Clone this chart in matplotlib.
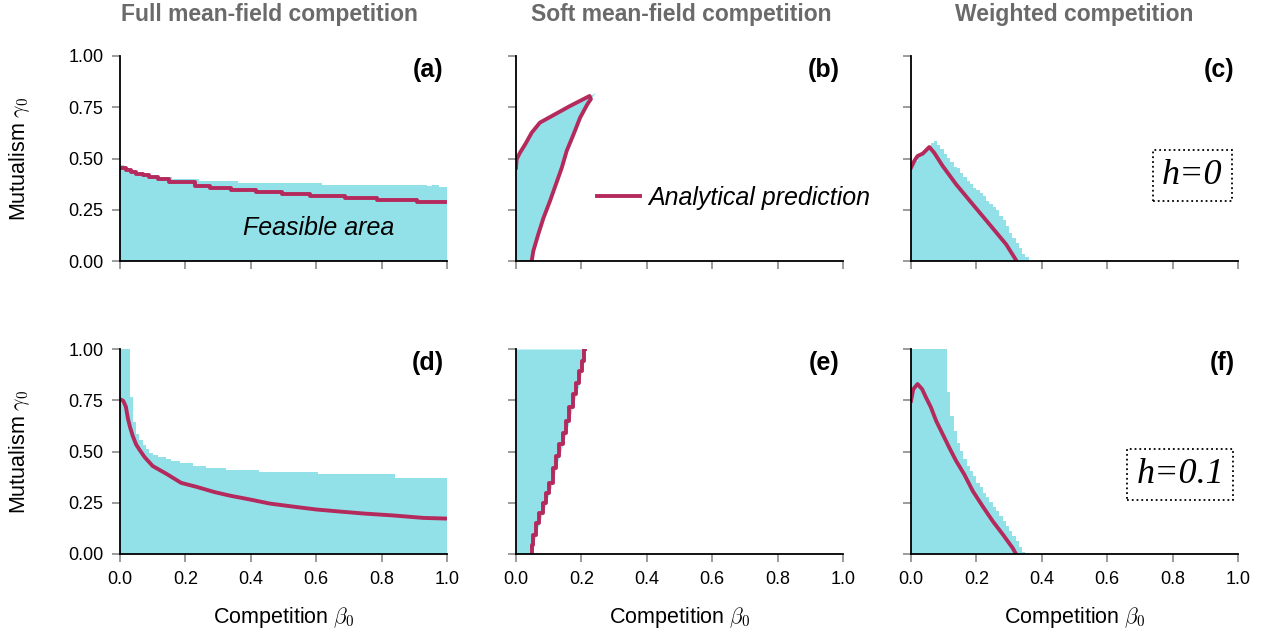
import numpy as np
import matplotlib
matplotlib.use('Agg')
import matplotlib.pyplot as plt

plt.rcParams['font.family'] = ['Liberation Sans', 'DejaVu Sans']
plt.rcParams['mathtext.fontset'] = 'cm'

CYAN = '#93e1e8'
RED = '#b42a5d'
GREY = '#6a6a6a'

# ---- panel (a): full mean-field, h=0 ----
a_edges = [0, 0.013, 0.029, 0.049, 0.08, 0.11, 0.16, 0.243, 0.36, 0.617, 0.94, 0.955, 0.975, 1.0]
a_tops = [0.47, 0.455, 0.44, 0.43, 0.415, 0.41, 0.40, 0.39, 0.379, 0.371, 0.364, 0.371, 0.362]
a_line_beta = [0, 0.018, 0.034, 0.049, 0.07, 0.09, 0.116, 0.151, 0.228, 0.274, 0.34, 0.417, 0.494,
               0.581, 0.688, 0.785, 0.908, 0.995]
a_line_gamma = [0.455, 0.444, 0.434, 0.426, 0.418, 0.41, 0.398, 0.387, 0.366, 0.358, 0.346, 0.337,
                0.325, 0.317, 0.307, 0.296, 0.286, 0.286]

# ---- panel (b): soft mean-field, h=0 ----
b_fill_beta = [0, 0.048, 0.053, 0.068, 0.084, 0.104, 0.122, 0.14, 0.155, 0.176, 0.196, 0.218, 0.245,
               0.229, 0.165, 0.073, 0.048, 0.028, 0.012, 0.002, 0]
b_fill_gamma = [0, 0, 0.049, 0.13, 0.21, 0.293, 0.374, 0.455, 0.537, 0.618, 0.699, 0.764, 0.821,
                0.805, 0.756, 0.675, 0.626, 0.569, 0.528, 0.496, 0.455]
b_line_beta = [0, 0.002, 0.012, 0.028, 0.048, 0.073, 0.165, 0.225, 0.229, 0.218, 0.196, 0.176, 0.155,
               0.14, 0.122, 0.104, 0.084, 0.068, 0.053, 0.048]
b_line_gamma = [0.455, 0.496, 0.528, 0.569, 0.626, 0.675, 0.756, 0.805, 0.79, 0.764, 0.699, 0.618,
                0.537, 0.455, 0.374, 0.293, 0.21, 0.13, 0.049, 0]

# ---- panel (c): weighted, h=0 (bins of 0.01) ----
c_tops = [0.47, 0.49, 0.51, 0.52, 0.53, 0.55, 0.574, 0.585, 0.566, 0.545, 0.524, 0.504, 0.485, 0.46,
          0.452, 0.431, 0.41, 0.39, 0.377, 0.358, 0.345, 0.333, 0.317, 0.293, 0.28, 0.263, 0.247,
          0.22, 0.2, 0.171, 0.138, 0.114, 0.089, 0.065, 0.033, 0.02]
c_line_beta = [0, 0.01, 0.02, 0.036, 0.046, 0.056, 0.071, 0.097, 0.138, 0.189, 0.24, 0.291, 0.323]
c_line_gamma = [0.455, 0.488, 0.512, 0.524, 0.54, 0.556, 0.528, 0.463, 0.374, 0.276, 0.179, 0.081, 0]

# ---- panel (d): full mean-field, h=0.1 ----
d_edges = [0, 0.032, 0.039, 0.049, 0.059, 0.07, 0.08, 0.09, 0.1, 0.116, 0.141, 0.156, 0.182, 0.223,
           0.262, 0.323, 0.425, 0.606, 0.842, 1.0]
d_tops = [1.0, 0.768, 0.646, 0.584, 0.555, 0.532, 0.514, 0.493, 0.483, 0.473, 0.462, 0.453, 0.442,
          0.429, 0.421, 0.408, 0.40, 0.388, 0.372]
d_line_beta = [0, 0.01, 0.018, 0.024, 0.031, 0.039, 0.049, 0.059, 0.075, 0.1, 0.141, 0.187, 0.233,
               0.289, 0.335, 0.397, 0.458, 0.545, 0.601, 0.673, 0.749, 0.836, 0.928, 0.995]
d_line_gamma = [0.755, 0.747, 0.718, 0.662, 0.617, 0.576, 0.535, 0.51, 0.473, 0.429, 0.392, 0.347,
                0.328, 0.302, 0.285, 0.266, 0.246, 0.228, 0.217, 0.207, 0.197, 0.188, 0.176, 0.173]

# ---- panel (e): soft mean-field, h=0.1 ----
e_gamma = [0, 0.046, 0.095, 0.152, 0.2, 0.25, 0.299, 0.347, 0.421, 0.478, 0.535, 0.592, 0.649, 0.715,
           0.78, 0.832, 0.894, 0.943, 1.0]
e_beta = [0.048, 0.053, 0.061, 0.071, 0.082, 0.092, 0.102, 0.112, 0.122, 0.133, 0.143, 0.153, 0.163,
          0.173, 0.184, 0.194, 0.201, 0.208, 0.211]

# ---- panel (f): weighted, h=0.1 (bins of 0.01) ----
f_tops = [1.0, 1.0, 1.0, 1.0, 1.0, 1.0, 1.0, 1.0, 1.0, 1.0, 1.0, 0.788, 0.674, 0.60, 0.543, 0.502,
          0.465, 0.429, 0.405, 0.38, 0.345, 0.325, 0.30, 0.277, 0.253, 0.228, 0.21, 0.186, 0.16,
          0.137, 0.113, 0.088, 0.062, 0.033, 0.01]
f_line_beta = [0, 0.007, 0.02, 0.034, 0.046, 0.061, 0.077, 0.097, 0.117, 0.138, 0.163, 0.189, 0.219,
               0.25, 0.281, 0.311, 0.321]
f_line_gamma = [0.747, 0.804, 0.829, 0.804, 0.763, 0.715, 0.649, 0.584, 0.519, 0.454, 0.388, 0.307,
                0.233, 0.16, 0.095, 0.029, 0]

col_titles = ['Full mean-field competition', 'Soft mean-field competition', 'Weighted competition']
panel_tags = ['a', 'b', 'c', 'd', 'e', 'f']

fig = plt.figure(figsize=(12.7, 6.37), dpi=100)
W, H = 1270.0, 637.0
lefts = [120, 516, 911]
tops_px = [56, 349]
aw, ah = 327, 205

axes = []
for r in range(2):
    for c in range(3):
        ax = fig.add_axes([lefts[c] / W, 1 - (tops_px[r] + ah) / H, aw / W, ah / H])
        ax.set_xlim(0, 1)
        ax.set_ylim(0, 1)
        for s in ['top', 'right']:
            ax.spines[s].set_visible(False)
        for s in ['left', 'bottom']:
            ax.spines[s].set_linewidth(1.3)
        ax.set_xticks([0, 0.2, 0.4, 0.6, 0.8, 1.0])
        ax.set_yticks([0, 0.25, 0.5, 0.75, 1.0])
        ax.tick_params(direction='out', length=6, width=1.2, color='#8a8a8a', labelsize=13, pad=6)
        if c == 0:
            ax.set_yticklabels(['0.00', '0.25', '0.50', '0.75', '1.00'])
        else:
            ax.set_yticklabels([])
        if r == 1:
            ax.set_xticklabels(['0.0', '0.2', '0.4', '0.6', '0.8', '1.0'])
        else:
            ax.set_xticklabels([])
        ax.text(0.99, 0.99, '(' + panel_tags[r * 3 + c] + ')', transform=ax.transAxes,
                ha='right', va='top', fontsize=18, fontweight='bold')
        axes.append(ax)

ax_a, ax_b, ax_c, ax_d, ax_e, ax_f = axes

# (a)
ax_a.stairs(a_tops, a_edges, fill=True, color=CYAN, linewidth=0)
ax_a.plot(a_line_beta, a_line_gamma, color=RED, lw=2.8, drawstyle='steps-post')
ax_a.text(0.607, 0.16, 'Feasible area', fontsize=18, style='italic', ha='center', va='center')

# (b)
ax_b.fill(b_fill_beta, b_fill_gamma, color=CYAN, linewidth=0)
ax_b.plot(b_line_beta, b_line_gamma, color=RED, lw=2.8, label='Analytical prediction')
ax_b.legend(loc='center left', bbox_to_anchor=(0.248, 0.307), frameon=False, borderpad=0,
            borderaxespad=0, handlelength=1.7, handletextpad=0.35,
            prop={'size': 18, 'style': 'italic'})

# (c)
bins_c = np.arange(len(c_tops)) * 0.01
ax_c.bar(bins_c, c_tops, width=0.01, align='edge', color=CYAN, linewidth=0)
ax_c.plot(c_line_beta, c_line_gamma, color=RED, lw=2.8)

# (d)
ax_d.stairs(d_tops, d_edges, fill=True, color=CYAN, linewidth=0)
ax_d.plot(d_line_beta, d_line_gamma, color=RED, lw=2.8)

# (e)
ax_e.fill_betweenx(e_gamma, 0, e_beta, color=CYAN, linewidth=0)
ax_e.plot(e_beta, e_gamma, color=RED, lw=2.8, drawstyle='steps-pre')

# (f)
bins_f = np.arange(len(f_tops)) * 0.01
ax_f.bar(bins_f, f_tops, width=0.01, align='edge', color=CYAN, linewidth=0)
ax_f.plot(f_line_beta, f_line_gamma, color=RED, lw=2.8)

box = dict(boxstyle='square,pad=0.25', facecolor='white', edgecolor='black', linestyle=':', linewidth=1.3)
ax_c.text(0.86, 0.415, 'h=0', fontsize=26, family='Liberation Serif', style='italic',
          ha='center', va='center', transform=ax_c.transAxes, bbox=box)
ax_f.text(0.823, 0.39, 'h=0.1', fontsize=26, family='Liberation Serif', style='italic',
          ha='center', va='center', transform=ax_f.transAxes, bbox=box)

for cx, t in zip([269, 681, 1074], col_titles):
    fig.text(cx / W, 1 - 15 / H, t, ha='center', va='center', fontsize=16.5,
             fontweight='bold', color=GREY)

for r in range(2):
    fig.text(20 / W, 1 - (tops_px[r] + ah / 2) / H, r'Mutualism $\gamma_0$', rotation=90,
             ha='center', va='center', fontsize=15.5)
for c in range(3):
    fig.text((lefts[c] + aw / 2) / W, 1 - 618 / H, r'Competition $\beta_0$',
             ha='center', va='center', fontsize=15.5)

fig.savefig('out.png', dpi=100)
